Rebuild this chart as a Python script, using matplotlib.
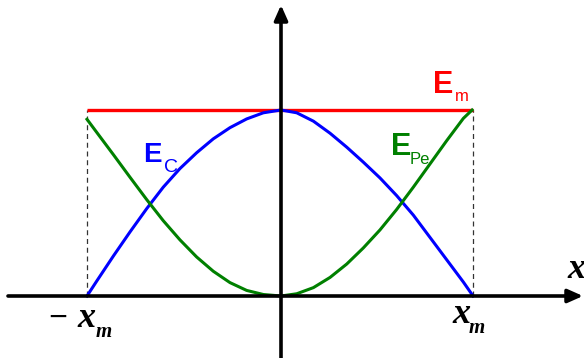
import matplotlib
matplotlib.use("Agg")
import matplotlib.pyplot as plt

# Data (x in units of x_m, energy in units of E_m)
ec_x = [-1.0, -0.95, -0.864, -0.778, -0.692, -0.607, -0.521, -0.435, -0.349,
        -0.263, -0.177, -0.091, 0.0, 0.081, 0.167, 0.253, 0.339, 0.424, 0.51,
        0.596, 0.682, 0.768, 0.854, 0.94, 0.99]
ec_y = [0.0, 0.08, 0.215, 0.345, 0.47, 0.585, 0.685, 0.77, 0.845,
        0.905, 0.952, 0.985, 1.0, 0.985, 0.94, 0.875, 0.80, 0.72, 0.635,
        0.54, 0.435, 0.315, 0.195, 0.075, 0.0]
epe_x = [-1.0, -0.95, -0.864, -0.778, -0.692, -0.607, -0.521, -0.435, -0.349,
         -0.263, -0.177, -0.091, 0.0, 0.081, 0.167, 0.253, 0.339, 0.424, 0.51,
         0.596, 0.682, 0.768, 0.854, 0.94, 0.985]
epe_y = [0.95, 0.88, 0.76, 0.638, 0.518, 0.405, 0.302, 0.21, 0.133,
         0.072, 0.03, 0.008, 0.0, 0.012, 0.045, 0.10, 0.172, 0.258, 0.355,
         0.465, 0.585, 0.71, 0.835, 0.955, 1.0]
em_x = [-1.0, 0.99]
em_y = [1.0, 1.0]

W, H = 584, 358
fig = plt.figure(figsize=(W / 100, H / 100), dpi=100)
ax = fig.add_axes([0, 0, 1, 1])
ax.set_xlim(-281 / 194, (W - 281) / 194)
ax.set_ylim(-(H - 296) / 186, 296 / 186)
ax.axis("off")

def px(x, y):
    return (x / W, 1 - y / H)

# axes arrows
ax.annotate("", xy=px(583, 296), xytext=px(8, 296), xycoords="figure fraction",
            arrowprops=dict(arrowstyle="-|>,head_length=0.9,head_width=0.4", lw=2.6,
                            color="black", shrinkA=0, shrinkB=0))
ax.annotate("", xy=px(281, 5), xytext=px(281, 358), xycoords="figure fraction",
            arrowprops=dict(arrowstyle="-|>,head_length=0.9,head_width=0.4", lw=2.6,
                            color="black", shrinkA=0, shrinkB=0))

# dashed verticals
ax.plot([em_x[0], em_x[0]], [0, em_y[0]], color="#333333", lw=0.9, ls=(0, (4, 3)))
ax.plot([em_x[1], em_x[1]], [0, em_y[1]], color="#333333", lw=0.9, ls=(0, (4, 3)))

ax.plot(em_x, em_y, color="#ff0000", lw=2.4, solid_capstyle="butt")
ax.plot(ec_x, ec_y, color="#0000ff", lw=2.2, solid_joinstyle="round")
ax.plot(epe_x, epe_y, color="#008000", lw=2.2, solid_joinstyle="round")

sans = "Liberation Sans"
serif = "Liberation Serif"

def t(x, y, s, size, color, family, weight="normal", style="normal"):
    fig.text(x / W, 1 - y / H, s, fontsize=size, color=color, family=family,
             weight=weight, style=style, ha="left", va="baseline")

# energy labels
t(433, 93, "E", 22, "#ff0000", sans, "bold")
t(455, 101, "m", 12, "#ff0000", sans)
t(143, 162, "E", 20, "#0000ff", sans, "bold")
t(164, 172, "C", 14, "#0000ff", sans)
t(391, 155, "E", 22, "#008000", sans, "bold")
t(410, 164, "Pe", 12, "#008000", sans)

# x labels
t(48, 327, "\u2212", 24, "black", serif, "bold")
t(77, 327, "x", 26, "black", serif, "bold", "italic")
t(96, 337, "m", 15, "black", serif, "bold", "italic")
t(452, 323, "x", 26, "black", serif, "bold", "italic")
t(469, 333, "m", 15, "black", serif, "bold", "italic")
t(567, 278, "x", 26, "black", serif, "bold", "italic")

fig.savefig("out.png", dpi=100)
